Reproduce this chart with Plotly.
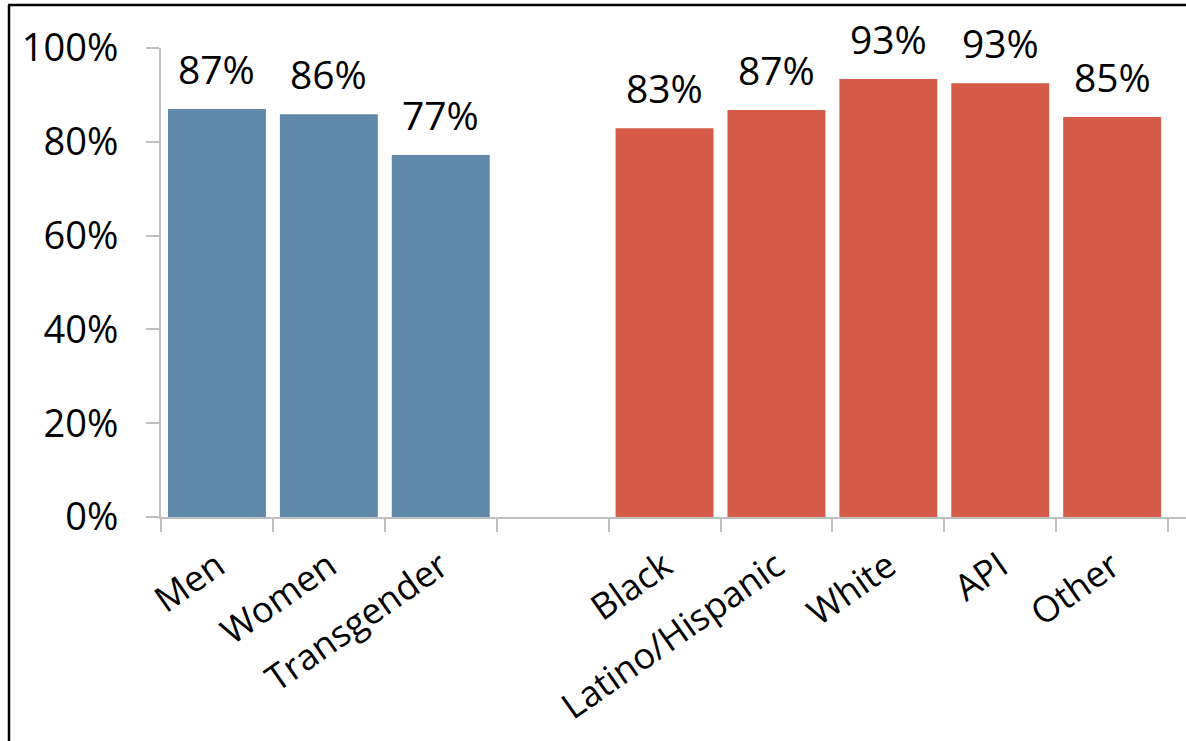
import plotly.graph_objects as go

categories = ["Men", "Women", "Transgender", " ", "Black", "Latino/Hispanic", "White", "API", "Other"]
values = [87.0, 85.9, 77.2, None, 82.9, 86.8, 93.4, 92.5, 85.3]
labels = ["87%", "86%", "77%", "", "83%", "87%", "93%", "93%", "85%"]
groups = ["gender", "gender", "gender", "", "race", "race", "race", "race", "race"]
group_colors = {"gender": "#6088A8", "race": "#D55B48", "": "rgba(0,0,0,0)"}
y_tickvals = [0, 20, 40, 60, 80, 100]
y_ticktext = ["0%", "20%", "40%", "60%", "80%", "100%"]

FONT = "Open Sans"
FS = 38
W, H = 1186, 741
ML, MT, MB = 161, 48, 224

fig = go.Figure()
fig.add_trace(go.Bar(
    x=categories, y=values,
    marker=dict(color=[group_colors[g] for g in groups], line=dict(width=0)),
    width=0.875,
    hoverinfo="skip",
))

for c, v, t in zip(categories, values, labels):
    if v is None:
        continue
    fig.add_annotation(x=c, y=v, text=t, showarrow=False, yanchor="bottom",
                       yshift=12, font=dict(family=FONT, size=39, color="black"))

# outer frame (left and top edges) in paper coordinates
pw = W - ML
ph = H - MT - MB
def px_x(p):
    return (p - ML) / pw
def px_y(p):
    return (H - MB - p) / ph
fig.add_shape(type="line", xref="paper", yref="paper", x0=px_x(9), x1=px_x(9),
              y0=px_y(5), y1=px_y(H + 5), line=dict(color="black", width=2.5))
fig.add_shape(type="line", xref="paper", yref="paper", x0=px_x(8), x1=px_x(W + 5),
              y0=px_y(5), y1=px_y(5), line=dict(color="black", width=2.5))

fig.update_layout(
    width=W, height=H,
    margin=dict(l=ML, r=0, t=MT, b=MB, pad=0, autoexpand=False),
    paper_bgcolor="white", plot_bgcolor="white",
    showlegend=False,
    font=dict(family=FONT, size=FS, color="black"),
    bargap=0.125,
)
fig.update_xaxes(
    type="category", categoryorder="array", categoryarray=categories,
    range=[-0.5, 8.66], automargin=False,
    showline=True, linecolor="#BFBFBF", linewidth=2,
    ticks="outside", tickson="boundaries", ticklen=13, tickwidth=2, tickcolor="#BFBFBF",
    tickangle=-35, tickfont=dict(family=FONT, size=36, color="black"),
    ticklabelstandoff=12,
    showgrid=False, zeroline=False,
)
fig.update_yaxes(
    range=[0, 100], tickmode="array", tickvals=y_tickvals, ticktext=y_ticktext,
    automargin=False,
    showline=True, linecolor="#BFBFBF", linewidth=2,
    ticks="outside", ticklen=13, tickwidth=2, tickcolor="#BFBFBF",
    tickfont=dict(family=FONT, size=FS, color="black"),
    ticklabelstandoff=20,
    showgrid=False, zeroline=False,
)

fig.write_html("out.html")
